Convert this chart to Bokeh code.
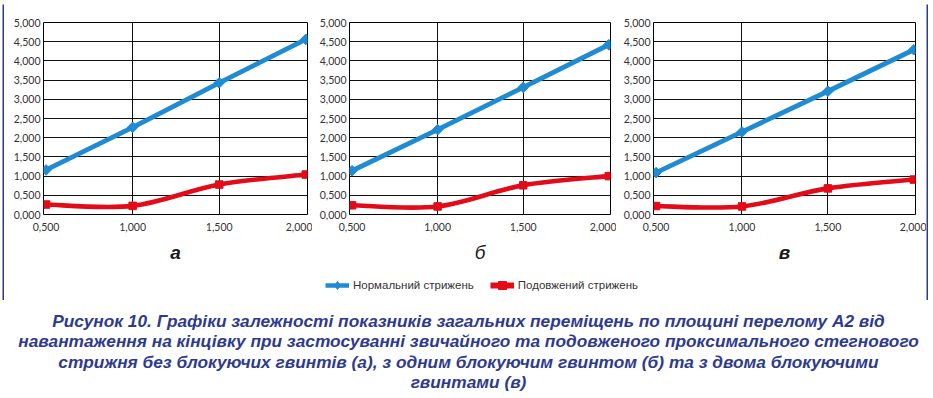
import math
from bokeh.plotting import figure
from bokeh.models import FixedTicker, Label, Legend, LegendItem, ColumnDataSource, Range1d, Spacer
from bokeh.layouts import row, column
from bokeh.embed import file_html
from bokeh.resources import INLINE

# ---------------- data ----------------
load = [0.5, 1.0, 1.5, 2.0]
x_tick_labels = ["0,500", "1,000", "1,500", "2,000"]
y_ticks = [0.0, 0.5, 1.0, 1.5, 2.0, 2.5, 3.0, 3.5, 4.0, 4.5, 5.0]

normal_a = [1.16, 2.27, 3.43, 4.56]
extended_a = [0.26, 0.225, 0.78, 1.04]
normal_b = [1.14, 2.21, 3.31, 4.42]
extended_b = [0.24, 0.21, 0.76, 1.00]
normal_c = [1.09, 2.15, 3.21, 4.29]
extended_c = [0.22, 0.21, 0.68, 0.91]

panel_labels = ["а", "б", "в"]
series_names = ["Нормальний стрижень", "Подовжений стрижень"]
caption_lines = [
    "Рисунок 10. Графіки залежності показників загальних переміщень по площині перелому А2 від",
    "навантаження на кінцівку при застосуванні звичайного та подовженого проксимального стегнового",
    "стрижня без блокуючих гвинтів (а), з одним блокуючим гвинтом (б) та з двома блокуючими",
    "гвинтами (в)",
]

# ---------------- style ----------------
BLUE = "#1e8bd3"
RED = "#e30b17"
NAVY = "#2e3a8f"
TICK_FONT = "Lato"
TICK_COLOR = "#333333"


def fmt(v):
    return f"{v:.3f}".replace(".", ",")


def smooth_segments(xs, ys):
    n = len(xs)
    d = dict(x0=[], y0=[], x1=[], y1=[], cx0=[], cy0=[], cx1=[], cy1=[])
    for i in range(n - 1):
        a = i - 1 if i > 0 else i
        b = i + 2 if i + 2 < n else i + 1
        d["x0"].append(xs[i]); d["y0"].append(ys[i])
        d["x1"].append(xs[i + 1]); d["y1"].append(ys[i + 1])
        d["cx0"].append(xs[i] + (xs[i + 1] - xs[a]) / 6)
        d["cy0"].append(ys[i] + (ys[i + 1] - ys[a]) / 6)
        d["cx1"].append(xs[i + 1] - (xs[b] - xs[i]) / 6)
        d["cy1"].append(ys[i + 1] - (ys[b] - ys[i]) / 6)
    return ColumnDataSource(d)


def style_axis(ax):
    ax.axis_line_color = None
    ax.major_tick_line_color = None
    ax.minor_tick_line_color = None
    ax.major_tick_out = 0
    ax.major_tick_in = 0
    ax.major_label_text_font = TICK_FONT
    ax.major_label_text_font_size = "10.5px"
    ax.major_label_text_color = TICK_COLOR


def make_panel(normal, extended, label, label_style, width, b_left, b_right):
    p = figure(width=width, height=266, x_range=(0.485, 2.01), y_range=(0, 5),
               output_backend="svg", toolbar_location=None,
               min_border_left=b_left, min_border_right=b_right,
               min_border_top=18, min_border_bottom=56,
               outline_line_color="#000000", outline_line_width=1, outline_line_alpha=1)
    p.border_fill_color = "white"

    yax = p.yaxis[0]
    style_axis(yax)
    yax.ticker = FixedTicker(ticks=y_ticks)
    yax.major_label_overrides = {t: fmt(t) for t in y_ticks}
    yax.major_label_standoff = 3

    xax = p.xaxis[0]
    style_axis(xax)
    xax.ticker = FixedTicker(ticks=load)
    xax.major_label_overrides = dict(zip(load, x_tick_labels))
    xax.major_label_standoff = 8
    xax.axis_label = label
    xax.axis_label_standoff = 8
    xax.axis_label_text_font = "Liberation Sans"
    xax.axis_label_text_font_size = "19px"
    xax.axis_label_text_font_style = label_style
    xax.axis_label_text_color = "#1a1a1a"

    p.xgrid.ticker = FixedTicker(ticks=load[1:-1])
    p.ygrid.ticker = FixedTicker(ticks=y_ticks)
    for g in (p.xgrid, p.ygrid):
        g.grid_line_color = "#111111"
        g.grid_line_width = 1
        g.grid_line_alpha = 1

    p.line(load, normal, line_color=BLUE, line_width=4.8)
    p.scatter(load, normal, marker="square", angle=math.pi / 4, size=7.5,
              fill_color=BLUE, line_color=BLUE)
    p.bezier(x0="x0", y0="y0", x1="x1", y1="y1", cx0="cx0", cy0="cy0",
             cx1="cx1", cy1="cy1", source=smooth_segments(load, extended),
             line_color=RED, line_width=4.6, line_cap="round")
    p.scatter(load, extended, marker="square", size=7.5,
              fill_color=RED, line_color=RED)
    return p


pa = make_panel(normal_a, extended_a, panel_labels[0], "bold italic", 308, 39, 5)
pb = make_panel(normal_b, extended_b, panel_labels[1], "italic", 304, 37, 6)
pc = make_panel(normal_c, extended_c, panel_labels[2], "bold italic", 310, 37, 11)

# ---------------- legend strip ----------------
# series drawn far outside this strip's view; only their legend swatches show
leg = figure(width=922, height=30, output_backend="svg", toolbar_location=None,
             x_axis_type=None, y_axis_type=None, min_border=0,
             x_range=Range1d(100, 101), y_range=Range1d(100, 101),
             outline_line_color=None)
r1 = leg.line(load, normal_a, line_color=BLUE, line_width=4.5)
r1m = leg.scatter(load, normal_a, marker="diamond", size=13,
                  fill_color=BLUE, line_color=BLUE)
r2 = leg.line(load, extended_a, line_color=RED, line_width=6)
r2m = leg.scatter(load, extended_a, marker="square", size=8, fill_color=RED, line_color=RED)
legend = Legend(items=[LegendItem(label=series_names[0], renderers=[r1, r1m]),
                       LegendItem(label=series_names[1], renderers=[r2, r2m])],
                orientation="horizontal", location=(321, 5),
                glyph_width=24, glyph_height=20, label_height=20,
                label_standoff=4, spacing=16, padding=0, margin=0,
                border_line_color=None, background_fill_alpha=0,
                label_text_font="Liberation Sans", label_text_font_size="11.5px",
                label_text_color="#333333")
leg.add_layout(legend)


def strip(w, h):
    return figure(width=w, height=h, output_backend="svg", toolbar_location=None,
                  x_axis_type=None, y_axis_type=None, min_border=0,
                  outline_line_color=None, background_fill_color=NAVY,
                  border_fill_color=NAVY)


inner = column(row(pa, pb, pc), leg)
framed = column(strip(926, 2), row(strip(2, 296), inner, strip(2, 296)), strip(926, 2))

# ---------------- caption ----------------
cap = figure(width=933, height=96, output_backend="svg", toolbar_location=None,
             x_axis_type=None, y_axis_type=None, min_border=0,
             outline_line_color=None)
for i, line in enumerate(caption_lines):
    cap.add_layout(Label(x=468, y=96 - (18 + 20.6 * i), x_units="screen", y_units="screen",
                         text=line, text_align="center", text_baseline="middle",
                         text_font="Liberation Sans", text_font_size="17.3px",
                         text_font_style="bold italic", text_color=NAVY))

page = column(Spacer(width=933, height=2), row(Spacer(width=2, height=300), framed), cap)
open("out.html", "w").write(file_html(page, INLINE))
